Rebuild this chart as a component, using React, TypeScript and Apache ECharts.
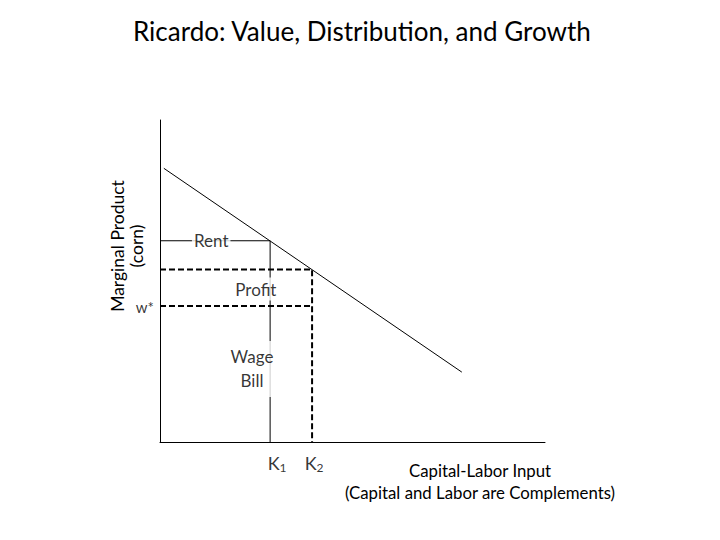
import React, { useEffect, useRef } from "react";
import * as echarts from "echarts";

const FONT = "Lato, 'Open Sans', sans-serif";

// Chart values (data coordinates: x 0..100, y 0..100)
const titleText = "Ricardo: Value, Distribution, and Growth";
const yAxisTitle = ["Marginal Product", "(corn)"];
const xAxisTitle = ["Capital-Labor Input", "(Capital and Labor are Complements)"];

const mpCurve: number[][] = [
  [1, 85],
  [78.4, 21.7],
];
const K1 = 28.6;
const K2 = 39.5;
const rentLevel = 62.5;
const profitLevel = 53.6;
const wageLevel = 42.2;

const rentPath: number[][] = [
  [0, rentLevel],
  [K1, rentLevel],
  [K1, 0],
];
const profitPath: number[][] = [
  [0, profitLevel],
  [K2, profitLevel],
  [K2, 0],
];
const wagePath: number[][] = [
  [0, wageLevel],
  [K2, wageLevel],
];

const areaNames = ["Rent", "Profit", "Wage\nBill"];
const areaPositions: number[][] = [
  [13.3, rentLevel],
  [24.9, 47.5],
  [23.9, 22.7],
];

export default function App() {
  const ref = useRef<HTMLDivElement>(null);

  useEffect(() => {
    document.body.style.margin = "0";
    if (!ref.current) return;
    const chart = echarts.init(ref.current, undefined, { renderer: "svg" });

    const baseLabel = {
      show: true,
      color: "#000",
      fontFamily: FONT,
      fontSize: 17,
      backgroundColor: "#fff",
    };

    const annotations: any[] = [
      {
        name: areaNames[0],
        value: areaPositions[0],
        label: { ...baseLabel, position: "inside", padding: [2, 2] },
      },
      {
        name: areaNames[1],
        value: areaPositions[1],
        label: { ...baseLabel, position: "inside", padding: [3, 2] },
      },
      {
        name: areaNames[2],
        value: areaPositions[2],
        label: { ...baseLabel, position: "inside", lineHeight: 24, padding: [4, 2] },
      },
      {
        name: "w*",
        value: [0, wageLevel],
        label: {
          show: true,
          position: "left",
          distance: 6,
          offset: [0, 1],
          formatter: "w*",
          fontFamily: FONT,
          fontSize: 15,
          color: "#000",
        },
      },
      {
        name: "K1",
        value: [K1, 0],
        label: {
          show: true,
          position: "bottom",
          distance: 10,
          offset: [7, 0],
          formatter: "{a|K}{b|1}",
          rich: {
            a: { fontFamily: FONT, fontSize: 18, color: "#000" },
            b: { fontFamily: FONT, fontSize: 12, color: "#000", padding: [9, 0, 0, 0] },
          },
        },
      },
      {
        name: "K2",
        value: [K2, 0],
        label: {
          show: true,
          position: "bottom",
          distance: 10,
          offset: [2, 0],
          formatter: "{a|K}{b|2}",
          rich: {
            a: { fontFamily: FONT, fontSize: 18, color: "#000" },
            b: { fontFamily: FONT, fontSize: 12, color: "#000", padding: [9, 0, 0, 0] },
          },
        },
      },
    ];

    const lineBase = {
      type: "line",
      symbol: "none",
      silent: true,
      z: 2,
    };

    chart.setOption({
      animation: false,
      title: {
        text: titleText,
        left: 128,
        top: 13,
        textStyle: { fontFamily: FONT, fontSize: 26, fontWeight: "normal", color: "#000" },
      },
      grid: { left: 160, top: 120, width: 385, height: 322 },
      xAxis: {
        type: "value",
        min: 0,
        max: 100,
        axisLine: { show: true, lineStyle: { color: "#000", width: 1 } },
        axisTick: { show: false },
        axisLabel: { show: false },
        splitLine: { show: false },
      },
      yAxis: {
        type: "value",
        min: 0,
        max: 100,
        axisLine: { show: true, lineStyle: { color: "#000", width: 1 } },
        axisTick: { show: false },
        axisLabel: { show: false },
        splitLine: { show: false },
      },
      graphic: [
        {
          type: "text",
          x: 127,
          y: 246,
          rotation: Math.PI / 2,
          style: {
            text: yAxisTitle.join("\n"),
            fontFamily: FONT,
            fontSize: 17.5,
            lineHeight: 19,
            fill: "#000",
            align: "center",
            verticalAlign: "middle",
          },
        },
        {
          type: "text",
          x: 480,
          y: 481,
          style: {
            text: xAxisTitle.join("\n"),
            fontFamily: FONT,
            fontSize: 16.8,
            lineHeight: 22,
            fill: "#000",
            align: "center",
            verticalAlign: "middle",
          },
        },
      ],
      series: [
        { ...lineBase, data: mpCurve, lineStyle: { color: "#000", width: 1 } },
        { ...lineBase, data: rentPath, lineStyle: { color: "#000", width: 1 } },
        { ...lineBase, data: profitPath, lineStyle: { color: "#000", width: 2, type: [6, 3] } },
        { ...lineBase, data: wagePath, lineStyle: { color: "#000", width: 2, type: [6, 3] } },
        {
          type: "scatter",
          symbolSize: 0,
          silent: true,
          z: 10,
          label: { show: true, formatter: "{b}" },
          data: annotations,
        },
      ],
    });

    return () => chart.dispose();
  }, []);

  return <div ref={ref} style={{ width: 720, height: 540 }} />;
}
